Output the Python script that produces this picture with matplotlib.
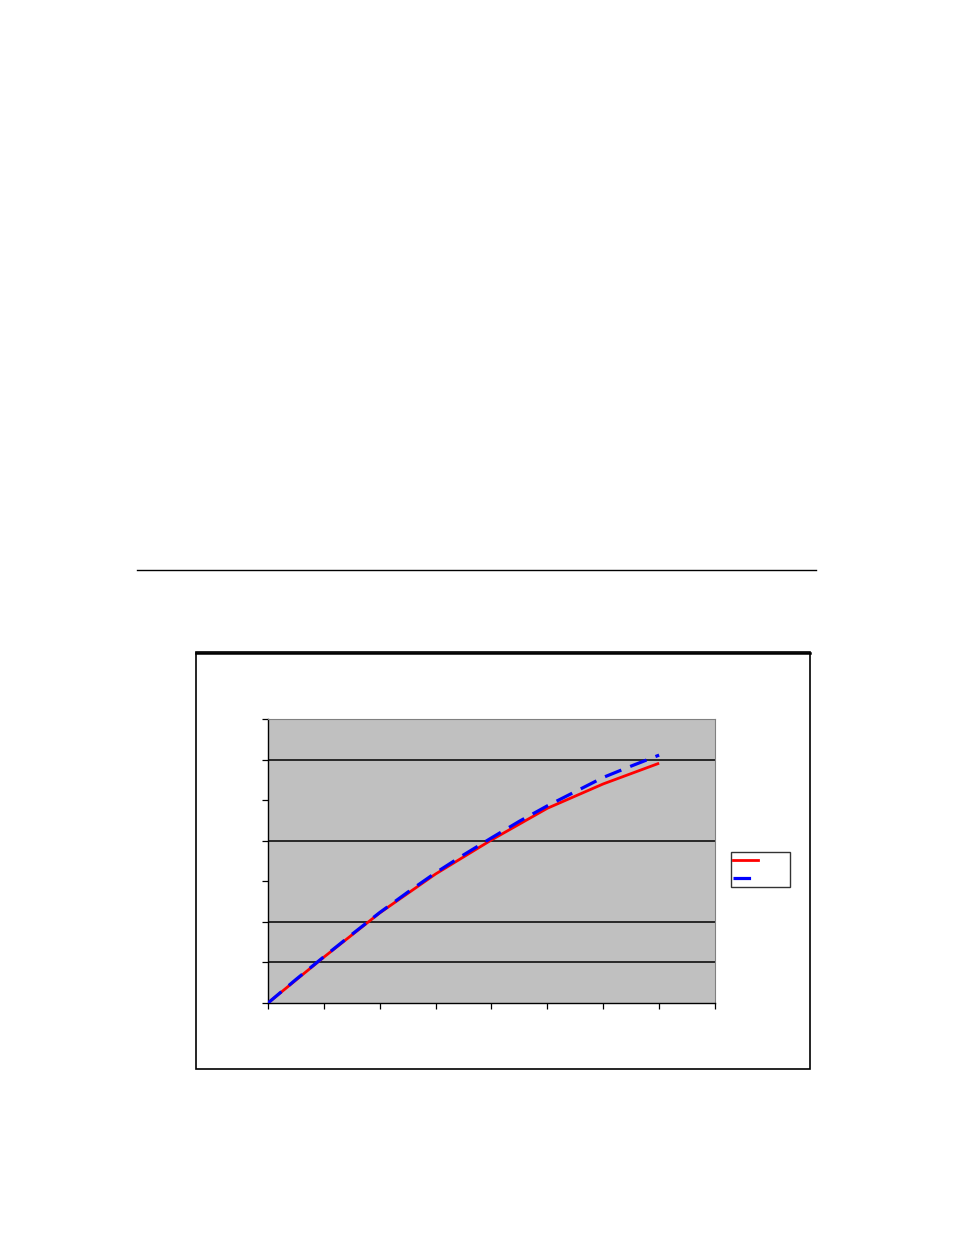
import matplotlib

matplotlib.use("Agg")
import matplotlib.pyplot as plt
from matplotlib.lines import Line2D
from matplotlib.patches import Rectangle

# values (no axis labels in the original)
x_red = [0, 1, 2, 3, 4, 5, 6, 7]
y_red = [0.0, 1.13, 2.22, 3.18, 4.02, 4.80, 5.40, 5.91]

x_blue = [0, 0.5, 1, 1.5, 2, 2.5, 3, 3.5, 4, 4.5, 5, 5.5, 6, 6.5, 7]
y_blue = [0.0, 0.58, 1.14, 1.69, 2.23, 2.73, 3.21, 3.65, 4.07, 4.48, 4.86, 5.21, 5.56, 5.84, 6.11]

x_ticks = [0, 1, 2, 3, 4, 5, 6, 7, 8]
y_ticks = [0, 1, 2, 3, 4, 5, 6, 7]
grid_levels = [1, 2, 4, 6]

W, H = 954, 1235
fig = plt.figure(figsize=(W / 100, H / 100), dpi=100)
fig.patch.set_facecolor("white")

# rule across the page
fig.add_artist(Line2D([137 / W, 816 / W], [1 - 570 / H, 1 - 570 / H],
                      transform=fig.transFigure, color="black", lw=1.0))

# chart frame
fig.add_artist(Rectangle((196 / W, 1 - 1069 / H), 614 / W, 417 / H,
                         transform=fig.transFigure, fill=False,
                         edgecolor="black", lw=1.2))
fig.add_artist(Line2D([196 / W, 810 / W], [1 - 653 / H, 1 - 653 / H],
                      transform=fig.transFigure, color="black", lw=1.8))

ax = fig.add_axes([268 / W, 1 - 1003 / H, 447 / W, 284 / H])
ax.set_facecolor("#C0C0C0")
for level in grid_levels:
    ax.axhline(level, color="black", lw=1.1, zorder=1)

ax.plot(x_red, y_red, color="#FF0000", lw=2.0, zorder=3, solid_capstyle="butt")
ax.plot(x_blue, y_blue, color="#0000FF", lw=2.3, zorder=4,
        dashes=(5.5, 3.0), dash_capstyle="butt")

ax.set_xlim(0, 8)
ax.set_ylim(0, 7)
ax.set_xticks(x_ticks)
ax.set_yticks(y_ticks)
ax.set_xticklabels([])
ax.set_yticklabels([])
ax.tick_params(direction="out", length=4, width=0.9, color="black")
ax.spines["left"].set_color("black")
ax.spines["bottom"].set_color("black")
ax.spines["left"].set_linewidth(1.0)
ax.spines["bottom"].set_linewidth(1.0)
ax.spines["top"].set_color("#808080")
ax.spines["right"].set_color("#808080")

handles = [
    Line2D([], [], color="#FF0000", lw=2.0),
    Line2D([], [], color="#0000FF", lw=2.3, dashes=(5.5, 3.0)),
]
leg = fig.legend(handles, [" ", " "], loc="upper left",
                 bbox_to_anchor=(731 / W, 1 - 852 / H), borderaxespad=0,
                 fancybox=False, frameon=True, fontsize=9, handlelength=2.05,
                 handletextpad=2.05, borderpad=0.15, labelspacing=0.4,
                 columnspacing=0.5)
leg.get_frame().set_edgecolor("black")
leg.get_frame().set_linewidth(1.0)

fig.savefig("out.png", dpi=100, facecolor="white")
plt.close(fig)
